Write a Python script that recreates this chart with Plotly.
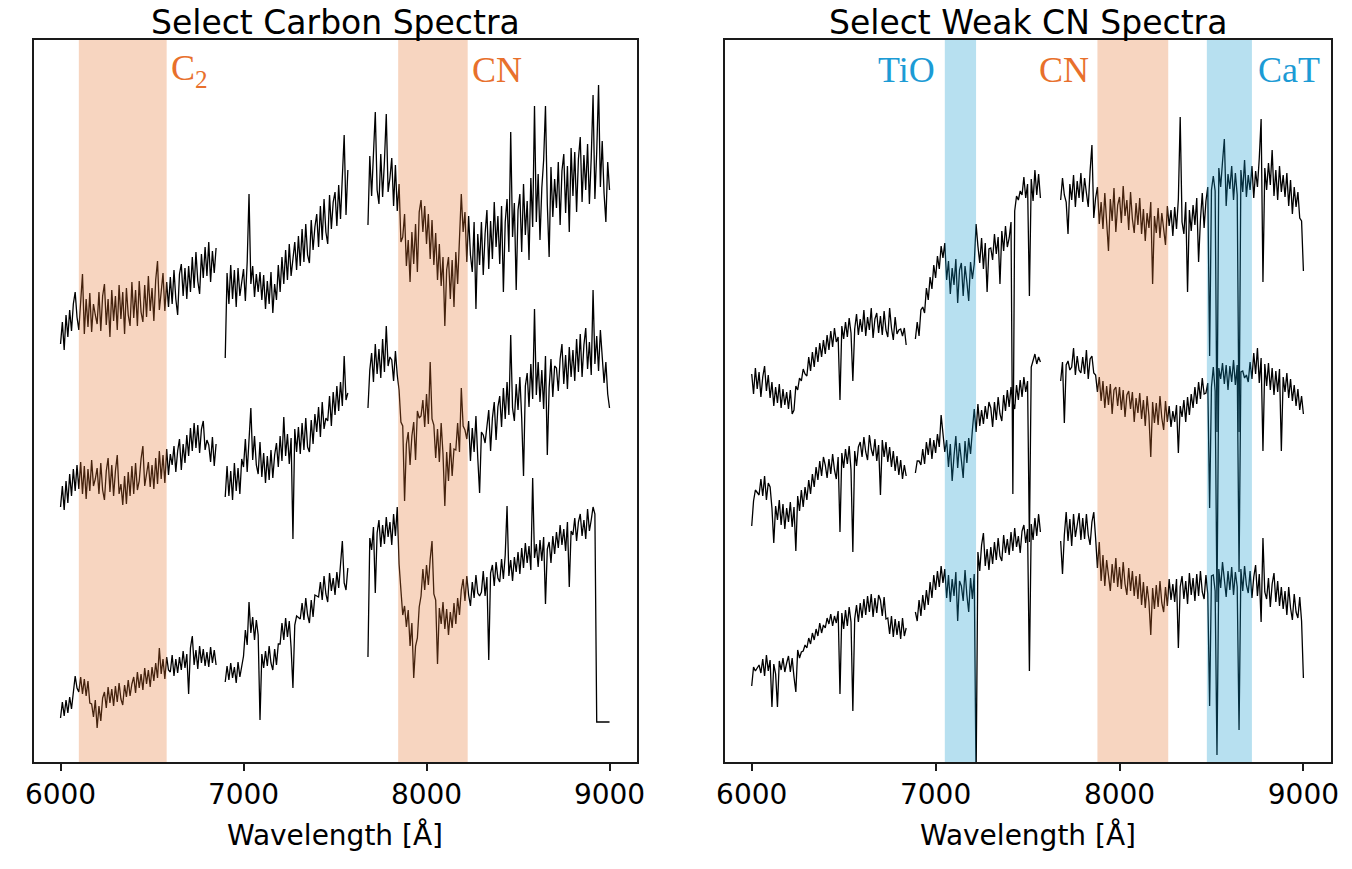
import plotly.graph_objects as go

N = None  # no data (detector gap)

# Wavelength grid shared by every spectrum [Å]
WAVELENGTH = list(range(6000, 9001, 10))


def flat(rows):
    out = []
    for r in rows:
        out.extend(r)
    return out


# ---- Carbon stars: offset flux (arbitrary units), one row per 100 Å ----
carbon_top = flat([
    [418, 440, 412, 447, 425, 452, 431, 458, 470, 445],
    [432, 461, 488, 428, 463, 435, 469, 430, 458, 447],
    [438, 470, 431, 466, 478, 437, 463, 425, 472, 441],
    [466, 432, 477, 443, 470, 428, 474, 447, 436, 480],
    [444, 472, 436, 481, 450, 440, 477, 445, 486, 451],
    [474, 441, 482, 501, 452, 470, 489, 451, 480, 455],
    [485, 458, 492, 463, 447, 488, 498, 466, 494, 463],
    [496, 470, 505, 474, 510, 481, 468, 508, 484, 515],
    [486, 520, 480, 511, 489, 514, N, N, N, N],
    [404, 489, 458, 497, 463, 492, 455, 494, 466, 481],
    [493, 461, 500, 568, 478, 496, 465, 488, 470, 490],
    [462, 487, 453, 481, 458, 490, 449, 478, 462, 497],
    [470, 505, 478, 512, 482, 518, 486, 503, 520, 492],
    [526, 496, 533, 500, 538, 507, 499, 542, 512, 535],
    [548, 515, 556, 522, 563, 530, 518, 567, 533, 560],
    [570, 536, 577, 543, 584, 627, 547, 592, N, N],
    [N, N, N, N, N, N, N, N, 537, 606],
    [566, 612, 650, 572, 558, 608, 565, 601, 648, 570],
    [584, 604, 556, 597, 551, 578, 520, 525, 548, 496],
    [522, 480, 530, 498, 538, 490, 550, 562, 530, 556],
    [518, 548, 503, 542, 497, 529, 482, 518, 476, 505],
    [436, 492, 505, 463, 502, 455, 510, 478, 518, 568],
    [530, 550, 500, 546, 507, 490, 540, 453, 528, 497],
    [540, 487, 528, 552, 493, 541, 503, 560, 515, 546],
    [498, 556, 470, 540, 563, 510, 630, 525, 559, 472],
    [552, 568, 510, 578, 527, 561, 502, 584, 535, 656],
    [540, 588, 522, 574, 602, 656, 558, 505, 595, 545],
    [583, 554, 600, 537, 591, 608, 549, 596, 530, 614],
    [566, 610, 550, 603, 625, 560, 607, 572, 618, 558],
    [604, 667, 563, 610, 677, 575, 621, 569, 540, 600],
    [572],
])

carbon_mid = flat([
    [255, 276, 252, 281, 259, 288, 266, 293, 271, 297],
    [273, 300, 268, 296, 263, 293, 271, 302, 276, 283],
    [294, 268, 299, 272, 262, 291, 304, 270, 297, 266],
    [291, 307, 268, 278, 257, 286, 258, 290, 266, 296],
    [268, 299, 272, 281, 303, 316, 276, 286, 300, 275],
    [297, 273, 304, 278, 311, 283, 307, 279, 313, 287],
    [308, 297, 316, 290, 311, 323, 292, 318, 299, 327],
    [306, 334, 311, 339, 314, 337, 309, 333, 341, 312],
    [322, 317, 300, 325, 296, 318, N, N, N, N],
    [265, 296, 266, 291, 262, 299, 271, 294, 268, 303],
    [295, 323, 290, 328, 354, 302, 326, 297, 288, 320],
    [285, 309, 279, 306, 282, 312, 284, 307, 319, 295],
    [326, 301, 345, 306, 328, 298, 324, 223, 333, 310],
    [335, 308, 339, 312, 344, 315, 310, 342, 318, 348],
    [330, 355, 325, 360, 333, 344, 341, 366, 336, 370],
    [347, 376, 351, 380, 356, 406, 362, 369, N, N],
    [N, N, N, N, N, N, N, N, 354, 392],
    [409, 380, 418, 388, 413, 384, 423, 390, 436, 396],
    [405, 402, 381, 411, 387, 372, 340, 336, 261, 318],
    [330, 297, 326, 340, 302, 351, 344, 346, 362, 335],
    [368, 338, 400, 343, 337, 304, 333, 300, 339, 308],
    [256, 310, 281, 319, 286, 313, 312, 339, 310, 374],
    [336, 332, 323, 341, 301, 334, 310, 346, 304, 269],
    [330, 327, 319, 336, 352, 311, 344, 360, 322, 355],
    [366, 335, 374, 343, 380, 347, 427, 354, 341, 378],
    [352, 385, 344, 286, 376, 389, 355, 398, 363, 453],
    [367, 400, 360, 392, 353, 406, 307, 374, 403, 365],
    [396, 394, 371, 403, 418, 378, 407, 373, 415, 385],
    [412, 381, 423, 390, 428, 385, 417, 434, 393, 420],
    [387, 472, 398, 426, 391, 432, 402, 379, 400, 368],
    [354],
])

carbon_bot = flat([
    [44, 60, 46, 62, 49, 65, 53, 70, 86, 74],
    [70, 85, 68, 83, 66, 81, 59, 58, 45, 62],
    [34, 56, 41, 64, 70, 54, 75, 59, 73, 56],
    [76, 60, 79, 63, 57, 77, 65, 82, 66, 78],
    [85, 69, 90, 74, 88, 72, 94, 78, 92, 75],
    [95, 81, 99, 84, 114, 88, 103, 83, 105, 92],
    [90, 107, 86, 103, 89, 105, 92, 111, 94, 108],
    [68, 114, 126, 97, 112, 93, 116, 99, 113, 96],
    [110, 95, 115, 99, 112, 97, N, N, N, N],
    [80, 96, 82, 99, 84, 95, 79, 100, 85, 98],
    [106, 132, 117, 160, 129, 145, 122, 142, 127, 42],
    [108, 94, 111, 96, 116, 99, 92, 113, 97, 118],
    [118, 139, 122, 144, 125, 141, 114, 74, 137, 146],
    [144, 143, 159, 142, 164, 147, 139, 162, 145, 167],
    [166, 165, 180, 162, 186, 168, 160, 189, 171, 184],
    [167, 190, 174, 196, 221, 179, 172, 194, N, N],
    [N, N, N, N, N, N, N, N, 105, 224],
    [212, 235, 169, 229, 242, 215, 237, 218, 245, 225],
    [240, 217, 248, 226, 255, 198, 172, 147, 156, 135],
    [152, 116, 139, 84, 116, 124, 155, 166, 193, 172],
    [197, 177, 203, 221, 168, 162, 98, 154, 138, 160],
    [133, 153, 127, 150, 134, 159, 138, 164, 147, 172],
    [183, 161, 186, 167, 156, 180, 164, 187, 169, 166],
    [170, 191, 166, 185, 102, 189, 197, 176, 200, 184],
    [180, 203, 183, 207, 256, 186, 202, 181, 205, 190],
    [210, 188, 214, 194, 219, 199, 216, 192, 284, 204],
    [218, 195, 222, 201, 225, 158, 213, 220, 199, 226],
    [208, 230, 214, 237, 217, 233, 211, 240, 175, 231],
    [227, 244, 221, 240, 248, 226, 242, 223, 253, 231],
    [242, 255, 248, 40, 40, 40, 40, 40, 40, 40],
    [40],
])

# ---- Weak-CN stars: offset flux (arbitrary units), one row per 100 Å ----
weak_top = flat([
    [388, 368, 394, 373, 390, 365, 385, 396, 371, 387],
    [364, 380, 356, 375, 359, 378, 354, 373, 357, 370],
    [353, 372, 348, 352, 376, 372, 384, 381, 393, 388],
    [386, 405, 391, 410, 395, 415, 400, 419, 405, 422],
    [408, 427, 412, 431, 415, 434, 420, 425, 362, 436],
    [423, 440, 425, 444, 429, 381, 433, 448, 427, 443],
    [430, 452, 426, 445, 432, 454, 424, 443, 449, 429],
    [446, 427, 451, 432, 425, 454, 434, 422, 445, 428],
    [432, 433, 426, 434, 417, N, N, N, N, 423],
    [440, 426, 452, 455, 449, 474, 462, 485, 473, 497],
    [484, 506, 493, 516, 504, 519, 482, 501, 468, 494],
    [477, 503, 459, 492, 499, 466, 496, 480, 461, 500],
    [483, 498, 538, 516, 499, 524, 493, 519, 470, 513],
    [514, 502, 528, 508, 525, 478, 531, 511, 536, 515],
    [524, 540, 268, 551, 566, 562, 571, 567, 585, 564],
    [578, 466, 583, 561, 592, 567, 588, 564, N, N],
    [N, N, N, N, N, N, N, N, 562, 584],
    [567, 560, 528, 578, 562, 587, 555, 581, 564, 589],
    [560, 584, 569, 555, 591, 617, 544, 564, 575, 538],
    [560, 533, 569, 544, 511, 563, 541, 574, 530, 557],
    [565, 539, 576, 546, 562, 532, 570, 543, 529, 559],
    [537, 564, 528, 553, 521, 549, 534, 560, 478, 546],
    [529, 554, 524, 549, 533, 517, 556, 536, 552, 526],
    [555, 533, 563, 645, 540, 528, 560, 470, 552, 531],
    [557, 537, 564, 500, 542, 569, 534, 561, 575, 406],
    [572, 586, 571, 330, 594, 575, 600, 623, 556, 588],
    [573, 596, 562, 589, 567, 330, 592, 570, 602, 565],
    [587, 572, 596, 564, 591, 575, 604, 643, 480, 594],
    [572, 599, 577, 612, 566, 592, 562, 596, 570, 587],
    [565, 589, 556, 582, 548, 575, 555, 570, 544, 541],
    [491],
])

weak_mid = flat([
    [236, 261, 272, 270, 267, 283, 266, 286, 262, 279],
    [275, 254, 219, 256, 242, 262, 237, 258, 233, 254],
    [240, 260, 235, 255, 211, 266, 251, 272, 255, 275],
    [262, 282, 268, 288, 275, 295, 282, 301, 286, 305],
    [297, 284, 303, 288, 308, 292, 283, 305, 230, 309],
    [294, 313, 298, 316, 292, 210, 311, 296, 315, 320],
    [305, 325, 310, 302, 327, 313, 306, 323, 301, 317],
    [267, 322, 305, 320, 300, 315, 295, 311, 291, 306],
    [287, 302, 283, 297, 286, N, N, N, N, 289],
    [301, 301, 297, 313, 298, 320, 307, 324, 303, 322],
    [309, 328, 315, 347, 324, 310, 322, 295, 318, 281],
    [306, 326, 294, 319, 302, 284, 321, 299, 324, 308],
    [332, 353, 330, 358, 336, 352, 338, 356, 343, 360],
    [354, 335, 360, 342, 365, 348, 341, 367, 351, 372],
    [355, 375, 360, 353, 377, 362, 382, 365, 385, 370],
    [381, 220, 395, 402, 408, 398, 405, 400, N, N],
    [N, N, N, N, N, N, N, N, 381, 400],
    [339, 397, 401, 392, 395, 414, 387, 406, 392, 389],
    [405, 388, 412, 383, 403, 406, 389, 387, 370, 385],
    [361, 381, 354, 376, 357, 378, 348, 372, 375, 356],
    [375, 352, 372, 345, 367, 371, 353, 370, 340, 364],
    [349, 369, 343, 362, 336, 366, 346, 305, 360, 339],
    [359, 337, 366, 344, 332, 361, 340, 356, 335, 351],
    [340, 357, 309, 356, 345, 362, 340, 365, 347, 368],
    [354, 375, 358, 380, 363, 384, 368, 369, 379, 254],
    [375, 395, 371, 160, 394, 383, 399, 378, 397, 372],
    [396, 380, 402, 377, 397, 190, 390, 391, 384, 387],
    [380, 400, 383, 409, 388, 414, 379, 404, 311, 398],
    [376, 399, 372, 394, 367, 391, 370, 393, 311, 385],
    [370, 389, 364, 383, 361, 377, 356, 373, 352, 366],
    [348],
])

weak_bot = flat([
    [76, 95, 91, 94, 97, 89, 103, 86, 107, 91],
    [102, 55, 98, 88, 55, 101, 92, 104, 90, 99],
    [106, 90, 104, 85, 70, 112, 104, 110, 111, 117],
    [114, 124, 118, 129, 122, 133, 126, 139, 129, 137],
    [134, 144, 138, 148, 136, 146, 139, 151, 68, 149],
    [133, 152, 136, 155, 140, 51, 143, 157, 140, 159],
    [144, 163, 147, 166, 150, 168, 145, 164, 149, 167],
    [162, 146, 165, 143, 144, 128, 146, 125, 143, 127],
    [141, 123, 144, 126, 134, N, N, N, N, 150],
    [141, 162, 146, 167, 152, 172, 157, 180, 164, 187],
    [172, 191, 175, 196, 179, 193, 164, 187, 160, 183],
    [166, 190, 141, 181, 176, 161, 192, 167, 150, 184],
    [163, 188, -20, 210, 191, 217, 229, 196, 213, 192],
    [215, 198, 220, 202, 224, 206, 201, 227, 209, 223],
    [207, 230, 211, 234, 215, 226, 209, 231, 237, 219],
    [233, 91, 238, 222, 244, 226, 248, 230, N, N],
    [N, N, N, N, N, N, N, N, 221, 188],
    [227, 250, 221, 243, 216, 248, 225, 240, 249, 222],
    [244, 223, 248, 227, 217, 240, 250, 224, 194, 220],
    [181, 207, 176, 202, 184, 171, 198, 179, 204, 175],
    [195, 173, 200, 178, 167, 194, 171, 191, 166, 186],
    [163, 188, 157, 180, 154, 176, 160, 127, 174, 153],
    [177, 155, 181, 159, 150, 175, 156, 183, 162, 178],
    [160, 183, 114, 175, 186, 163, 181, 158, 189, 167],
    [184, 161, 188, 166, 191, 170, 163, 187, 168, 56],
    [186, 187, 171, 7, 193, 174, 200, 178, 165, 191],
    [172, 195, 167, 190, 175, 32, 193, 171, 196, 177],
    [169, 191, 164, 185, 197, 166, 188, 140, 224, 170],
    [163, 184, 155, 178, 189, 160, 181, 156, 175, 153],
    [171, 147, 175, 154, 142, 168, 150, 144, 165, 141],
    [84],
])

CARBON_SPECTRA = [carbon_top, carbon_mid, carbon_bot]
WEAK_CN_SPECTRA = [weak_top, weak_mid, weak_bot]

# Molecular / atomic feature windows [Å]
CARBON_BANDS = {"C2": (6100, 6580), "CN": (7845, 8225)}
WEAK_BANDS = {"TiO": (7050, 7220), "CN": (7880, 8265), "CaT": (8475, 8720)}

# ---- styling ----
ORANGE_BAND = "#E47330"
BLUE_BAND = "#0F98CD"
ORANGE_TEXT = "#E8702C"
BLUE_TEXT = "#1C9BD5"
FRAME = "#1a1a1a"
SANS = "DejaVu Sans"
SERIF = "Liberation Serif"

LEFT_DOM = [0.0, 0.4649]
RIGHT_DOM = [0.5328, 1.0]
XRANGE = [5855, 9150]
YRANGE = [0, 722]

fig = go.Figure()

for spec in CARBON_SPECTRA:
    fig.add_trace(go.Scatter(x=WAVELENGTH, y=spec, mode="lines",
                             line=dict(color="black", width=1.3),
                             connectgaps=False, hoverinfo="skip",
                             showlegend=False, xaxis="x", yaxis="y"))
for spec in WEAK_CN_SPECTRA:
    fig.add_trace(go.Scatter(x=WAVELENGTH, y=spec, mode="lines",
                             line=dict(color="black", width=1.3),
                             connectgaps=False, hoverinfo="skip",
                             showlegend=False, xaxis="x2", yaxis="y2"))


def band(xref, yref, lo, hi, color):
    fig.add_shape(type="rect", xref=xref, yref=yref + " domain",
                  x0=lo, x1=hi, y0=0, y1=1, fillcolor=color,
                  opacity=0.3, line=dict(width=0), layer="above")


band("x", "y", *CARBON_BANDS["C2"], ORANGE_BAND)
band("x", "y", *CARBON_BANDS["CN"], ORANGE_BAND)
band("x2", "y2", *WEAK_BANDS["TiO"], BLUE_BAND)
band("x2", "y2", *WEAK_BANDS["CN"], ORANGE_BAND)
band("x2", "y2", *WEAK_BANDS["CaT"], BLUE_BAND)


def label(xref, x, text, color, anchor):
    fig.add_annotation(xref=xref, yref="paper", x=x, y=0.958, text=text,
                       showarrow=False, xanchor=anchor, yanchor="middle",
                       font=dict(family=SERIF, size=36, color=color))


label("x", CARBON_BANDS["C2"][1] + 15, "C<sub>2</sub>", ORANGE_TEXT, "left")
label("x", CARBON_BANDS["CN"][1] + 15, "CN", ORANGE_TEXT, "left")
label("x2", WEAK_BANDS["TiO"][0] - 40, "TiO", BLUE_TEXT, "right")
label("x2", WEAK_BANDS["CN"][0] - 35, "CN", ORANGE_TEXT, "right")
label("x2", WEAK_BANDS["CaT"][1] + 20, "CaT", BLUE_TEXT, "left")

# panel titles and axis titles
for dom, title in [(LEFT_DOM, "Select Carbon Spectra"),
                   (RIGHT_DOM, "Select Weak CN Spectra")]:
    cx = (dom[0] + dom[1]) / 2
    fig.add_annotation(xref="paper", yref="paper", x=cx, y=1.0249,
                       text=title, showarrow=False, xanchor="center",
                       yanchor="middle",
                       font=dict(family=SANS, size=33, color="black"))
    fig.add_annotation(xref="paper", yref="paper", x=cx, y=-0.101,
                       text="Wavelength [Å]", showarrow=False,
                       xanchor="center", yanchor="middle",
                       font=dict(family=SANS, size=28, color="black"))

xaxis_style = dict(range=XRANGE, tickvals=[6000, 7000, 8000, 9000],
                   ticks="outside", ticklen=7, tickwidth=1.5,
                   tickcolor=FRAME, showline=True, linecolor=FRAME,
                   linewidth=1.5, mirror=True, showgrid=False,
                   zeroline=False,
                   tickfont=dict(family=SANS, size=28, color="black"))
yaxis_style = dict(range=YRANGE, showticklabels=False, ticks="",
                   showline=True, linecolor=FRAME, linewidth=1.5,
                   mirror=True, showgrid=False, zeroline=False)

fig.update_layout(
    width=1352, height=869,
    margin=dict(l=34, r=21, t=40, b=107),
    paper_bgcolor="white", plot_bgcolor="white",
    xaxis=dict(domain=LEFT_DOM, anchor="y", **xaxis_style),
    yaxis=dict(domain=[0, 1], anchor="x", **yaxis_style),
    xaxis2=dict(domain=RIGHT_DOM, anchor="y2", **xaxis_style),
    yaxis2=dict(domain=[0, 1], anchor="x2", **yaxis_style),
)

fig.write_html("out.html")
